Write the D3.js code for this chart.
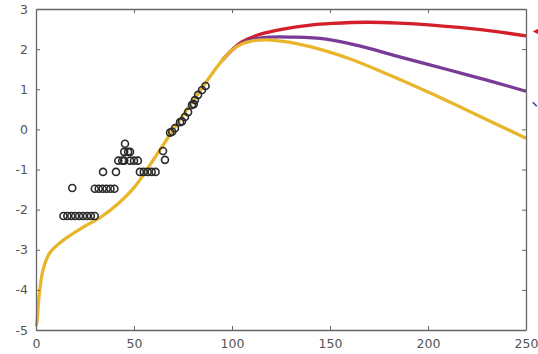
<!DOCTYPE html>
<html>
<head>
<meta charset="utf-8">
<script src="https://cdn.jsdelivr.net/npm/d3@7"></script>
<style>
  html, body { margin: 0; padding: 0; background: #fff; }
  svg { display: block; }
  .tick text { font-family: "DejaVu Sans", sans-serif; fill: #555; }
</style>
</head>
<body>
<svg id="chart" width="538" height="354"></svg>
<script>
// observed points (open circles)
const obsX = [14, 16, 18, 20, 22, 24, 26, 28, 30,
  18.5,
  30, 32, 34, 36, 38, 40,
  34.2, 40.8,
  42, 44, 45, 48, 50, 52,
  45, 47, 48,
  45.4,
  53, 55, 57, 59, 61,
  64.8, 65.8,
  68.4, 69.5, 70.9, 73.5, 74.5, 76, 77.6, 79.6, 80.5, 81.1, 82.7, 84.7, 86.5];
const obsY = [-2.16, -2.16, -2.16, -2.16, -2.16, -2.16, -2.16, -2.16, -2.16,
  -1.46,
  -1.48, -1.48, -1.48, -1.48, -1.48, -1.48,
  -1.06, -1.06,
  -0.78, -0.78, -0.78, -0.78, -0.78, -0.78,
  -0.56, -0.56, -0.56,
  -0.36,
  -1.06, -1.06, -1.06, -1.06, -1.06,
  -0.54, -0.76,
  -0.08, -0.06, 0.03, 0.18, 0.2, 0.31, 0.43, 0.61, 0.63, 0.73, 0.86, 0.98, 1.08];

// fitted curves
const yellowX = [0, 0.5, 1.5, 3.6, 7, 14, 24, 33, 42, 50, 55, 60, 65, 70, 75, 80, 85, 90, 95, 100, 105, 110, 117, 125, 133, 140, 160, 180, 200, 225, 250];
const yellowY = [-4.9, -4.8, -4.18, -3.5, -3.08, -2.76, -2.44, -2.19, -1.85, -1.45, -1.12, -0.75, -0.38, 0.0, 0.35, 0.7, 1.05, 1.4, 1.72, 1.98, 2.13, 2.2, 2.23, 2.2, 2.14, 2.06, 1.76, 1.36, 0.93, 0.36, -0.22];
const purpleX = [95, 100, 105, 110, 120, 130, 148, 165, 186, 200, 220, 235, 250];
const purpleY = [1.72, 1.98, 2.15, 2.24, 2.3, 2.3, 2.25, 2.08, 1.8, 1.62, 1.36, 1.16, 0.95];
const redX = [95, 100, 105, 115, 126, 140, 151, 169, 185, 202, 228, 250];
const redY = [1.72, 1.98, 2.18, 2.38, 2.5, 2.6, 2.64, 2.67, 2.65, 2.6, 2.48, 2.33];

const xTicks = [0, 50, 100, 150, 200, 250];
const yTicks = [-5, -4, -3, -2, -1, 0, 1, 2, 3];

// little markers cut off at the right edge
const markX = [256, 255];
const markY = [2.44, 0.6];

const W = 538, H = 354;
const M = { top: 9, right: 12, bottom: 24, left: 36 };
const IW = W - M.left - M.right, IH = H - M.top - M.bottom;

const svg = d3.select('#chart');
const g = svg.append('g').attr('transform', `translate(${M.left},${M.top})`);

const x = d3.scaleLinear().domain([0, 250]).range([0, IW]);
const y = d3.scaleLinear().domain([-5, 3]).range([IH, 0]);

const zip = (xs, ys) => xs.map((v, i) => [v, ys[i]]);
const line = d3.line()
  .x(d => x(d[0]))
  .y(d => y(d[1]))
  .curve(d3.curveCatmullRom);

// yellow drawn last so the shared start stays yellow
const series = [
  { pts: zip(redX, redY), color: '#d21f2a' },
  { pts: zip(purpleX, purpleY), color: '#7a3a98' },
  { pts: zip(yellowX, yellowY), color: '#e8b52c' }
];

g.selectAll('.curve')
  .data(series)
  .enter()
  .append('path')
  .attr('class', 'curve')
  .attr('d', d => line(d.pts))
  .attr('fill', 'none')
  .attr('stroke', d => d.color)
  .attr('stroke-width', 3.3)
  .attr('stroke-linecap', 'butt');

g.selectAll('.obs')
  .data(zip(obsX, obsY))
  .enter()
  .append('circle')
  .attr('class', 'obs')
  .attr('cx', d => x(d[0]))
  .attr('cy', d => y(d[1]))
  .attr('r', 3.5)
  .attr('fill', 'none')
  .attr('stroke', '#2a2a2a')
  .attr('stroke-width', 1.6);

// axes: ticks point inward, box on all sides
const fs = 12.5;
const fmt = d => String(d);
g.append('g')
  .attr('transform', `translate(0,${IH})`)
  .call(d3.axisBottom(x).tickValues(xTicks).tickFormat(fmt).tickSizeInner(-4).tickSizeOuter(0).tickPadding(9));
g.append('g')
  .call(d3.axisLeft(y).tickValues(yTicks).tickFormat(fmt).tickSizeInner(-4).tickSizeOuter(0).tickPadding(8));
g.append('g')
  .call(d3.axisTop(x).tickValues(xTicks).tickSizeInner(-4).tickSizeOuter(0).tickFormat(''));
g.append('g')
  .attr('transform', `translate(${IW},0)`)
  .call(d3.axisRight(y).tickValues(yTicks).tickSizeInner(-4).tickSizeOuter(0).tickFormat(''));

g.selectAll('.domain').attr('stroke', '#666').attr('stroke-width', 1.3);
g.selectAll('.tick line').attr('stroke', '#666');
g.selectAll('.tick text').attr('font-size', fs);

// annotation marks at the right edge
g.append('path')
  .attr('d', `M${x(markX[0]) - 5},${y(markY[0])} l8,-4 l0,8 z`)
  .attr('fill', '#e0141c');
g.append('path')
  .attr('d', `M${x(markX[1]) - 3},${y(markY[1]) - 3} l4,4`)
  .attr('stroke', '#2a4aa8')
  .attr('stroke-width', 1.6)
  .attr('fill', 'none');
</script>
</body>
</html>
